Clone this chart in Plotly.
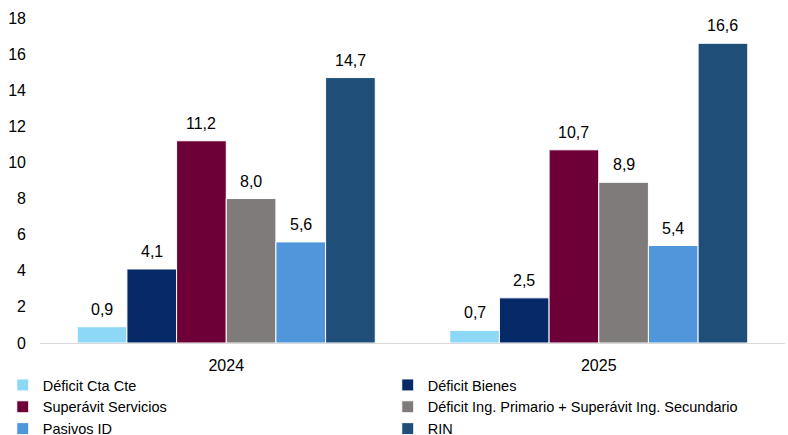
import plotly.graph_objects as go

years = ["2024", "2025"]
series_names = ["Déficit Cta Cte", "Déficit Bienes", "Superávit Servicios",
                "Déficit Ing. Primario + Superávit Ing. Secundario", "Pasivos ID", "RIN"]
deficit_cta = [0.9, 0.7]
deficit_bienes = [4.1, 2.5]
superavit_serv = [11.2, 10.7]
deficit_ing = [8.0, 8.9]
pasivos_id = [5.6, 5.4]
rin = [14.7, 16.6]
colors = ["#8DD7F7", "#062A68", "#6E0038", "#7F7B7B", "#5096DA", "#1F4E79"]
y_ticks = [0, 2, 4, 6, 8, 10, 12, 14, 16, 18]

values = [deficit_cta, deficit_bienes, superavit_serv, deficit_ing, pasivos_id, rin]
FONT = "Liberation Sans, Arial, sans-serif"
FS = 16
BARGAP = 0.2
n = len(values)

fig = go.Figure()
annotations = []
for j, (name, vals, col) in enumerate(zip(series_names, values, colors)):
    fig.add_trace(go.Bar(
        x=years, y=vals, name=name,
        marker=dict(color=col, line=dict(color="white", width=1)),
    ))
    offset = -(1 - BARGAP) / 2 + (j + 0.5) * (1 - BARGAP) / n
    for i, v in enumerate(vals):
        annotations.append(dict(
            x=i + offset, y=v, xref="x", yref="y",
            text=f"{v:.1f}".replace(".", ","), showarrow=False,
            yanchor="bottom", yshift=7,
            font=dict(size=FS, color="#000000", family=FONT),
        ))

fig.update_layout(
    width=788, height=435,
    margin=dict(l=40, r=3, t=18, b=92, autoexpand=False),
    paper_bgcolor="white", plot_bgcolor="white",
    barmode="group", bargap=BARGAP, bargroupgap=0,
    font=dict(family=FONT, size=FS, color="#000000"),
    showlegend=True,
    annotations=annotations,
    legend=dict(orientation="h", x=-0.05, xanchor="left", y=-0.08, yanchor="top",
                entrywidth=340, entrywidthmode="pixels", bgcolor="rgba(0,0,0,0)",
                font=dict(size=14.5, family=FONT), itemwidth=30,
                tracegroupgap=0, traceorder="normal"),
    xaxis=dict(showgrid=False, showline=True, linecolor="#D9D9D9", linewidth=1,
               ticks="", tickfont=dict(size=FS), ticklabelstandoff=8),
    yaxis=dict(range=[0, 18], tickvals=y_ticks, showgrid=False, showline=False,
               zeroline=False, ticks="", tickfont=dict(size=FS), ticklabelstandoff=13),
)

fig.write_html("out.html")
